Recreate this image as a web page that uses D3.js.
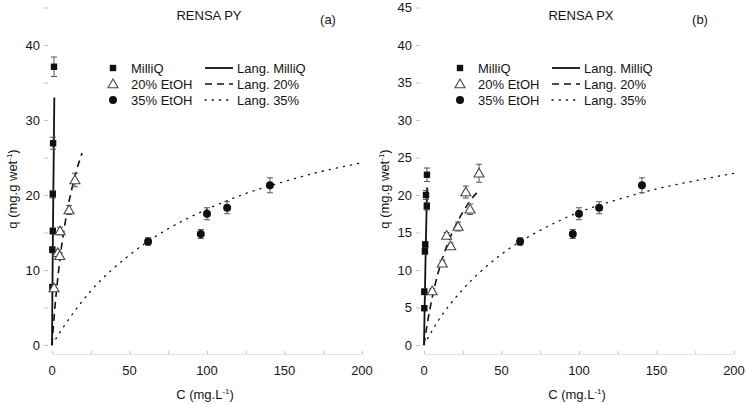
<!DOCTYPE html>
<html><head><meta charset="utf-8">
<script src="https://cdn.jsdelivr.net/npm/d3@7"></script>
<style>
html,body{margin:0;padding:0;background:#fff;}
svg text{font-family:"Liberation Sans",Arial,sans-serif;fill:#151515;}
</style></head>
<body><svg id="chart" width="746" height="404"></svg>
<script>
// ---------- data ----------
const panelTitles = ["RENSA PY", "RENSA PX"];
const panelTags = ["(a)", "(b)"];
const xTicks = [0, 50, 100, 150, 200];
const yTicksLeft = [0, 10, 20, 30, 40];
const yTicksRight = [0, 5, 10, 15, 20, 25, 30, 35, 40, 45];
const seriesNames = ["MilliQ", "20% EtOH", "35% EtOH"];
const fitNames = ["Lang. MilliQ", "Lang. 20%", "Lang. 35%"];

// Panel (a) RENSA PY
const pyMilliQ_C = [1.3, 0.7, 0.5, 0.5, 0.2, 0.2];
const pyMilliQ_q = [37.1, 26.9, 20.1, 15.2, 12.7, 7.7];
const pyMilliQ_e = [1.3, 0.8, 0.5, 0.4, 0.4, 0.4];
const pyEt20_C = [14.8, 11.0, 5.2, 3.7, 5.0, 1.3];
const pyEt20_q = [22.0, 18.0, 15.2, 12.3, 11.9, 7.6];
const pyEt20_e = [0.9, 0.6, 0.5, 0.4, 0.4, 0.3];
const pyEt35_C = [62, 96, 100, 113, 140.6];
const pyEt35_q = [13.8, 14.8, 17.5, 18.3, 21.3];
const pyEt35_e = [0.5, 0.6, 0.8, 0.8, 1.0];
const pyFitMilliQ_C = [0, 0.3, 0.6, 0.9, 1.2, 1.5];
const pyFitMilliQ_q = [0, 8.0, 15.0, 21.0, 27.0, 33.0];
const pyFit20_C = [0, 1, 2, 4, 6, 8, 10, 13, 16, 19.4];
const pyFit20_q = [0, 2.8, 5.3, 9.4, 12.9, 15.7, 18.1, 21.0, 23.4, 25.6];
const pyFit35_C = [0, 10, 25, 50, 75, 100, 125, 150, 175, 200];
const pyFit35_q = [0, 3.2, 7.2, 12.0, 15.5, 18.1, 20.2, 21.8, 23.2, 24.3];

// Panel (b) RENSA PX
const pxMilliQ_C = [1.9, 1.3, 1.8, 0.8, 0.6, 0.2, 0.2];
const pxMilliQ_q = [22.7, 20.0, 18.5, 13.4, 12.5, 7.1, 4.9];
const pxMilliQ_e = [0.9, 0.6, 0.5, 0.4, 0.4, 0.4, 0.3];
const pxEt20_C = [35.5, 27, 29.7, 22, 14.6, 17.2, 11.8, 5.3];
const pxEt20_q = [22.9, 20.4, 18.1, 15.8, 14.6, 13.2, 10.9, 7.2];
const pxEt20_e = [1.2, 0.8, 0.7, 0.6, 0.4, 0.4, 0.4, 0.3];
const pxEt35_C = [62, 96, 100, 113, 140.6];
const pxEt35_q = [13.8, 14.8, 17.5, 18.3, 21.3];
const pxEt35_e = [0.5, 0.6, 0.8, 0.8, 1.0];
const pxFitMilliQ_C = [0, 0.5, 1.0, 1.5, 2.0];
const pxFitMilliQ_q = [0, 6.0, 11.5, 16.5, 21.0];
const pxFit20_C = [0, 2, 4, 7, 11.5, 16, 21, 25, 30, 35];
const pxFit20_q = [0, 2.7, 5.0, 7.9, 11.3, 13.9, 16.2, 17.7, 19.3, 20.5];
const pxFit35_C = [0, 10, 25, 50, 75, 100, 125, 150, 175, 200];
const pxFit35_q = [0, 3.5, 7.4, 12.1, 15.3, 17.7, 19.4, 20.8, 21.9, 22.9];

// ---------- build ----------
const zip = (c, q, e) => c.map((v, i) => ({c: v, q: q[i], e: e ? e[i] : 0}));
const panels = [
  {x0: 52, title: panelTitles[0], tag: panelTags[0], yTicks: yTicksLeft, labelEvery: 10,
   pts: [zip(pyMilliQ_C, pyMilliQ_q, pyMilliQ_e), zip(pyEt20_C, pyEt20_q, pyEt20_e), zip(pyEt35_C, pyEt35_q, pyEt35_e)],
   fits: [zip(pyFitMilliQ_C, pyFitMilliQ_q), zip(pyFit20_C, pyFit20_q), zip(pyFit35_C, pyFit35_q)]},
  {x0: 424, title: panelTitles[1], tag: panelTags[1], yTicks: yTicksRight, labelEvery: 5,
   pts: [zip(pxMilliQ_C, pxMilliQ_q, pxMilliQ_e), zip(pxEt20_C, pxEt20_q, pxEt20_e), zip(pxEt35_C, pxEt35_q, pxEt35_e)],
   fits: [zip(pxFitMilliQ_C, pxFitMilliQ_q), zip(pxFit20_C, pxFit20_q), zip(pxFit35_C, pxFit35_q)]}
];

const svg = d3.select("#chart");
const lineStyles = [
  {dash: null, w: 1.8},
  {dash: "7,5", w: 1.6},
  {dash: "1.2,6", w: 1.3}
];

function drawMarker(g, type, x, y) {
  if (type === 0) {
    g.append("rect").attr("x", x - 3.2).attr("y", y - 3.2).attr("width", 6.4).attr("height", 6.4).attr("fill", "#111");
  } else if (type === 1) {
    const s = 5;
    g.append("path").attr("d", `M${x},${y - s}L${x + s * 1.0},${y + s * 0.75}L${x - s * 1.0},${y + s * 0.75}Z`)
      .attr("fill", "#fff").attr("stroke", "#444").attr("stroke-width", 1.1);
  } else {
    g.append("circle").attr("cx", x).attr("cy", y).attr("r", 4).attr("fill", "#111");
  }
}

panels.forEach(p => {
  const x = d3.scaleLinear().domain([0, 200]).range([p.x0, p.x0 + 310]);
  const y = d3.scaleLinear().domain([0, 45]).range([345, 7.5]);
  const g = svg.append("g");

  // x axis (faint)
  const xa = g.append("g").attr("transform", "translate(0,354)")
    .call(d3.axisBottom(x).tickValues(d3.range(0, 201, 25)).tickSizeInner(-3).tickSizeOuter(0).tickFormat(""));
  xa.select(".domain").attr("stroke", "#e4e4e4");
  xa.selectAll(".tick line").attr("stroke", "#c4c4c4");
  g.append("g").selectAll("text").data(xTicks).join("text")
    .attr("x", d => x(d)).attr("y", 375).attr("text-anchor", "middle").attr("font-size", 13).text(d => d);

  // y axis (ticks only)
  const ya = g.append("g").attr("transform", `translate(${p.x0 - 4},0)`)
    .call(d3.axisLeft(y).tickValues(d3.range(0, 46, 5)).tickSize(4).tickFormat(""));
  ya.select(".domain").remove();
  ya.selectAll(".tick line").attr("stroke", "#c0c0c0");
  g.append("g").selectAll("text").data(p.yTicks).join("text")
    .attr("x", p.x0 - 12).attr("y", d => y(d)).attr("dy", "0.36em").attr("text-anchor", "end")
    .attr("font-size", 13).text(d => d);

  // titles
  g.append("text").attr("x", x(100) + 2 - 0).attr("y", 19.5).attr("text-anchor", "middle").attr("font-size", 13)
    .attr("dx", p.x0 === 52 ? 0 : 0).text(p.title);
  g.append("text").attr("x", p.x0 + 276).attr("y", 24).attr("text-anchor", "middle").attr("font-size", 13).text(p.tag);

  // axis titles
  const xt = g.append("text").attr("x", x(100) - 2).attr("y", 399).attr("text-anchor", "middle").attr("font-size", 13);
  xt.append("tspan").text("C (mg.L");
  xt.append("tspan").attr("font-size", 8).attr("dy", -5).text("-1");
  xt.append("tspan").attr("dy", 5).text(")");
  const yt = g.append("text").attr("transform", `translate(${p.x0 - 35},189) rotate(-90)`)
    .attr("text-anchor", "middle").attr("font-size", 13);
  yt.append("tspan").text("q (mg.g wet");
  yt.append("tspan").attr("font-size", 8).attr("dy", -5).text("-1");
  yt.append("tspan").attr("dy", 5).text(")");

  // fitted curves
  const line = d3.line().x(d => x(d.c)).y(d => y(d.q)).curve(d3.curveMonotoneX);
  p.fits.forEach((f, i) => {
    g.append("path").attr("d", line(f)).attr("fill", "none").attr("stroke", "#111")
      .attr("stroke-width", lineStyles[i].w).attr("stroke-dasharray", lineStyles[i].dash)
      .attr("stroke-linecap", i === 2 ? "round" : "butt");
  });

  // error bars + markers
  p.pts.forEach((s, i) => {
    const eg = g.append("g").attr("stroke", "#555").attr("stroke-width", 1);
    s.forEach(d => {
      const cx = x(d.c), y1 = y(d.q + d.e), y2 = y(d.q - d.e);
      eg.append("line").attr("x1", cx).attr("x2", cx).attr("y1", y1).attr("y2", y2);
      eg.append("line").attr("x1", cx - 3).attr("x2", cx + 3).attr("y1", y1).attr("y2", y1);
      eg.append("line").attr("x1", cx - 3).attr("x2", cx + 3).attr("y1", y2).attr("y2", y2);
    });
    const mg = g.append("g");
    s.forEach(d => drawMarker(mg, i, x(d.c), y(d.q)));
  });

  // legend
  const lx = p.x0 + (p.x0 === 52 ? 61 : 36);
  const rows = [68, 84, 100];
  seriesNames.forEach((n, i) => {
    const lg = g.append("g");
    drawMarker(lg, i, lx, rows[i]);
    g.append("text").attr("x", lx + 18).attr("y", rows[i]).attr("dy", "0.36em").attr("font-size", 13).text(n);
    g.append("line").attr("x1", lx + 92).attr("x2", lx + 120).attr("y1", rows[i]).attr("y2", rows[i])
      .attr("stroke", "#111").attr("stroke-width", lineStyles[i].w).attr("stroke-dasharray", lineStyles[i].dash)
      .attr("stroke-linecap", i === 2 ? "round" : "butt");
    g.append("text").attr("x", lx + 124).attr("y", rows[i]).attr("dy", "0.36em").attr("font-size", 13).text(fitNames[i]);
  });
});
</script></body></html>
